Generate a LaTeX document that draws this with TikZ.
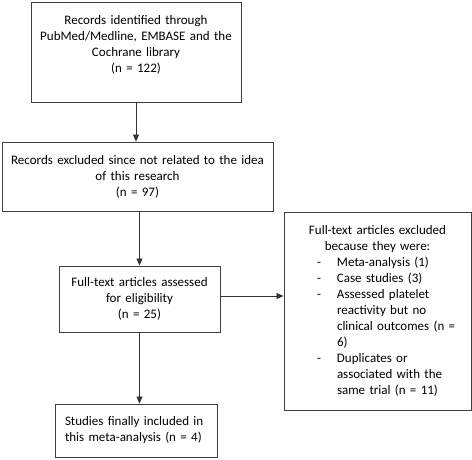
\documentclass[tikz,border=0pt]{standalone}
\usepackage{fontspec}
\setmainfont{Carlito}
\usetikzlibrary{arrows.meta}
\newlength{\exw}\setlength{\exw}{177pt}
\newcommand{\exitem}[1]{\makebox[\exw][l]{\hspace*{28pt}\makebox[20pt][l]{-}#1}}
\newcommand{\excont}[1]{\makebox[\exw][l]{\hspace*{48pt}#1}}

\begin{document}
\begin{tikzpicture}[x=1pt,y=-1pt,
    box/.style={draw=black!75,line width=0.9pt,inner sep=0pt,align=center,
      font=\fontsize{13pt}{16pt}\selectfont},
    arr/.style={-{Triangle[length=7pt,width=6pt]},line width=0.8pt,draw=black!80}]
    \useasboundingbox (0,0) rectangle (472,460);
    \node[box,minimum width=210,minimum height=100,text width=200] (ident) at (136,52)
      {Records identified through\\PubMed/Medline, EMBASE and the\\Cochrane library\\(n = 122)\\\mbox{}};
    \node[box,minimum width=271,minimum height=69,text width=265] (excl) at (137.5,176.5)
      {Records excluded since not related to the idea\\of this research\\(n = 97)};
    \node[box,minimum width=161,minimum height=66,text width=155] (full) at (139.5,299)
      {Full-text articles assessed\\for eligibility\\(n = 25)};
    \node[box,minimum width=162,minimum height=53,inner xsep=10pt,text width=142,align=left] (incl) at (136,430.5)
      {Studies finally included in\\this meta-analysis (n = 4)};
    \node[box,minimum width=187,minimum height=198,text width=177] (fullex) at (377.5,311)
      {Full-text articles excluded\\because they were:\\
       \exitem{Meta-analysis (1)}\\
       \exitem{Case studies (3)}\\
       \exitem{Assessed platelet}\\
       \excont{reactivity but no}\\
       \excont{clinical outcomes (n =}\\
       \excont{6)}\\
       \exitem{Duplicates or}\\
       \excont{associated with the}\\
       \excont{same trial (n = 11)}};
    %\node (W) at (0,0) {};
    \draw[arr] (ident) -- (ident |- excl.north);
    \draw[arr] (full |- excl.south) -- (full.north);
    \draw[arr] (full.south) -- (full.south |- incl.north);
    \draw[arr] ([yshift=3pt]full.east) -- ([yshift=3pt]full.east -| fullex.west);
  \end{tikzpicture}
\end{document}
